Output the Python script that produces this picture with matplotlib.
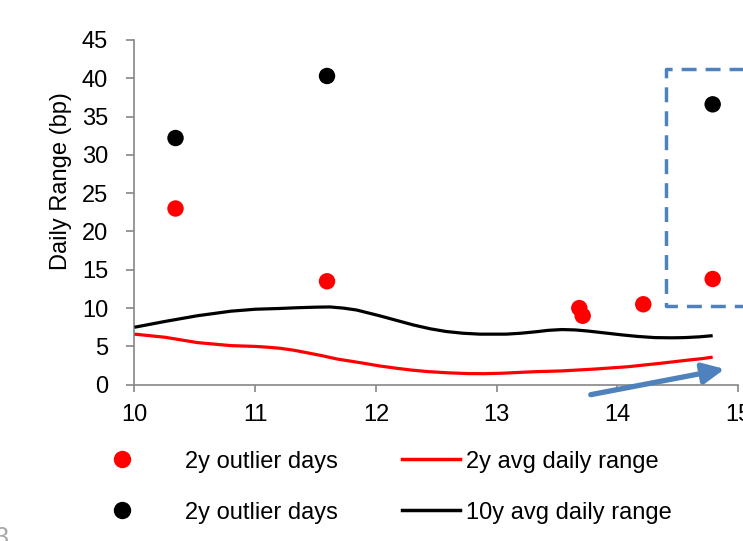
import matplotlib
matplotlib.use("Agg")
import matplotlib.pyplot as plt
from matplotlib.lines import Line2D

plt.rcParams['font.family'] = ['Liberation Sans', 'DejaVu Sans']

# ---- data ----
red_pts_x = [10.34, 11.595, 13.685, 13.713, 14.215, 14.79]
red_pts_y = [23.0, 13.5, 10.0, 9.0, 10.5, 13.8]
black_pts_x = [10.34, 11.595, 14.79]
black_pts_y = [32.2, 40.3, 36.6]

avg10_x = [10.0, 10.25, 10.52, 10.8, 11.0, 11.2, 11.35, 11.5, 11.62, 11.73, 11.84, 12.03, 12.17, 12.31,
           12.45, 12.58, 12.72, 12.86, 13.08, 13.2, 13.32, 13.43, 13.54, 13.65, 13.76, 13.9, 14.04,
           14.17, 14.31, 14.45, 14.56, 14.68, 14.79]
avg10_y = [7.5, 8.25, 9.0, 9.6, 9.85, 9.95, 10.05, 10.12, 10.15, 10.0, 9.75, 9.0, 8.4, 7.8,
           7.3, 6.95, 6.72, 6.6, 6.6, 6.72, 6.9, 7.1, 7.2, 7.15, 7.0, 6.75, 6.5,
           6.3, 6.15, 6.12, 6.15, 6.25, 6.4]
avg2_x = [10.0, 10.25, 10.52, 10.8, 11.0, 11.1, 11.21, 11.32, 11.42, 11.55, 11.68, 11.9, 12.03, 12.17,
          12.3, 12.44, 12.6, 12.77, 12.9, 13.05, 13.18, 13.32, 13.54, 13.82, 14.09, 14.36, 14.58, 14.7, 14.79]
avg2_y = [6.6, 6.2, 5.5, 5.1, 5.0, 4.9, 4.75, 4.5, 4.2, 3.8, 3.35, 2.8, 2.45, 2.15,
          1.9, 1.7, 1.55, 1.45, 1.44, 1.5, 1.6, 1.7, 1.8, 2.05, 2.35, 2.8, 3.2, 3.4, 3.6]

box_x = [15.3, 14.40, 14.40, 15.3]
box_y = [41.2, 41.2, 10.3, 10.3]
arrow_start = (13.78, -1.3)
arrow_end = (14.89, 2.05)

xticks = [10, 11, 12, 13, 14, 15]
yticks = [0, 5, 10, 15, 20, 25, 30, 35, 40, 45]
ylabel = "Daily Range (bp)"
legend_labels = ["2y outlier days", "2y outlier days", "2y avg daily range", "10y avg daily range"]

RED = '#FF0000'
BLUE = '#4F81BD'
GRAY = '#868686'

fig = plt.figure(figsize=(7.43, 5.41), dpi=100)
ax = fig.add_axes([0.181, 0.2889, 0.8123, 0.6372])

ax.plot(avg2_x, avg2_y, color=RED, lw=2.3, solid_joinstyle='round', solid_capstyle='butt', zorder=3)
ax.plot(avg10_x, avg10_y, color='black', lw=2.3, solid_joinstyle='round', solid_capstyle='butt', zorder=3)
ax.scatter(red_pts_x, red_pts_y, s=140, color=RED, edgecolors='none', zorder=4)
ax.scatter(black_pts_x, black_pts_y, s=140, color='black', edgecolors='none', zorder=4)

box = Line2D(box_x, box_y, color=BLUE, lw=2.5, clip_on=False, zorder=5,
             solid_joinstyle='round', dash_joinstyle='round')
box.set_dashes((4.3, 2.6))
ax.add_line(box)

ax.annotate('', xy=arrow_end, xytext=arrow_start, annotation_clip=False,
            arrowprops=dict(arrowstyle='-|>,head_length=1.3,head_width=0.62',
                            mutation_scale=10, lw=3.8, color=BLUE,
                            shrinkA=0, shrinkB=0))

ax.set_xlim(10, 15)
ax.set_ylim(0, 45)
ax.set_xticks(xticks)
ax.set_yticks(yticks)
ax.set_xticklabels([str(t) for t in xticks])
ax.set_yticklabels([str(t) for t in yticks])
for s in ['top', 'right']:
    ax.spines[s].set_visible(False)
for s in ['left', 'bottom']:
    ax.spines[s].set_color(GRAY)
    ax.spines[s].set_linewidth(1.2)
ax.tick_params(axis='both', colors=GRAY, labelcolor='black', labelsize=17, width=1.2)
ax.tick_params(axis='y', length=6, pad=13)
ax.tick_params(axis='x', length=5, pad=9)
for lbl in ax.get_xticklabels() + ax.get_yticklabels():
    lbl.set_clip_on(False)

ax.set_ylabel(ylabel, fontsize=17)
ax.yaxis.set_label_coords(-0.104, 0.59)

# ---- legend (manual, figure coords) ----
W, H = 743.0, 541.0
rows_dot = [459, 510]
rows_base = [468, 519]
fig.add_artist(Line2D([122 / W], [1 - rows_dot[0] / H], marker='o', color=RED, markersize=11.5,
                      linestyle='none', transform=fig.transFigure))
fig.add_artist(Line2D([122 / W], [1 - rows_dot[1] / H], marker='o', color='black', markersize=11.5,
                      linestyle='none', transform=fig.transFigure))
fig.add_artist(Line2D([402 / W, 460 / W], [1 - rows_dot[0] / H] * 2, color=RED, lw=2.5,
                      transform=fig.transFigure))
fig.add_artist(Line2D([402 / W, 460 / W], [1 - rows_dot[1] / H] * 2, color='black', lw=2.5,
                      transform=fig.transFigure))
fig.text(185 / W, 1 - rows_base[0] / H, legend_labels[0], fontsize=17, va='baseline')
fig.text(185 / W, 1 - rows_base[1] / H, legend_labels[1], fontsize=17, va='baseline')
fig.text(466 / W, 1 - rows_base[0] / H, legend_labels[2], fontsize=17, va='baseline')
fig.text(466 / W, 1 - rows_base[1] / H, legend_labels[3], fontsize=17, va='baseline')

# page-number fragment at lower-left (cut off in the reference too)
fig.text(-5 / W, 1 - 545 / H, "3", fontsize=18, color='#a6a6a6', va='baseline')

fig.savefig("out.png", dpi=100)
